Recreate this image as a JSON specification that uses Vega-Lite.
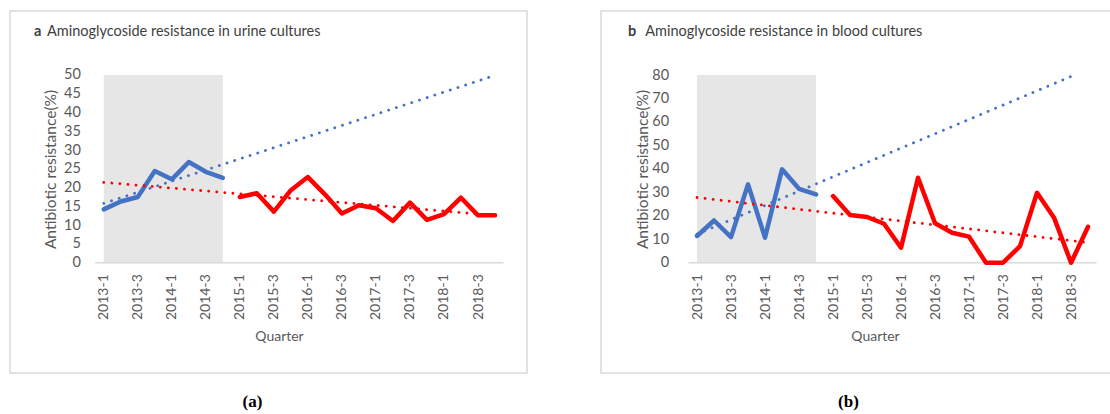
{
  "$schema": "https://vega.github.io/schema/vega-lite/v6.json",
  "background": "white",
  "padding": {"left": 9, "top": 10, "right": 0, "bottom": 0},
  "spacing": 72,
  "config": {
    "font": "Lato",
    "view": {"stroke": "#D9D9D9", "strokeWidth": 1.5},
    "axis": {"domain": false, "ticks": false, "grid": false, "labelColor": "#595959", "titleColor": "#595959", "labelFont": "Lato", "titleFont": "Lato", "labelFontSize": 14, "titleFontSize": 14, "titleFontWeight": "normal", "labelFlush": false, "labelOverlap": false, "labelBound": false}
  },
  "datasets": {
    "urine": [
      {"t": 1, "quarter": "2013-1", "period": "2013-2014", "value": 14.2},
      {"t": 2, "quarter": "2013-2", "period": "2013-2014", "value": 16.3},
      {"t": 3, "quarter": "2013-3", "period": "2013-2014", "value": 17.5},
      {"t": 4, "quarter": "2013-4", "period": "2013-2014", "value": 24.4},
      {"t": 5, "quarter": "2014-1", "period": "2013-2014", "value": 22.2},
      {"t": 6, "quarter": "2014-2", "period": "2013-2014", "value": 26.8},
      {"t": 7, "quarter": "2014-3", "period": "2013-2014", "value": 24.2},
      {"t": 8, "quarter": "2014-4", "period": "2013-2014", "value": 22.6},
      {"t": 9, "quarter": "2015-1", "period": "2015-2018", "value": 17.5},
      {"t": 10, "quarter": "2015-2", "period": "2015-2018", "value": 18.5},
      {"t": 11, "quarter": "2015-3", "period": "2015-2018", "value": 13.6},
      {"t": 12, "quarter": "2015-4", "period": "2015-2018", "value": 19.3},
      {"t": 13, "quarter": "2016-1", "period": "2015-2018", "value": 22.8},
      {"t": 14, "quarter": "2016-2", "period": "2015-2018", "value": 18.2},
      {"t": 15, "quarter": "2016-3", "period": "2015-2018", "value": 13.1},
      {"t": 16, "quarter": "2016-4", "period": "2015-2018", "value": 15.3},
      {"t": 17, "quarter": "2017-1", "period": "2015-2018", "value": 14.5},
      {"t": 18, "quarter": "2017-2", "period": "2015-2018", "value": 11.1},
      {"t": 19, "quarter": "2017-3", "period": "2015-2018", "value": 16.0},
      {"t": 20, "quarter": "2017-4", "period": "2015-2018", "value": 11.4},
      {"t": 21, "quarter": "2018-1", "period": "2015-2018", "value": 12.9},
      {"t": 22, "quarter": "2018-2", "period": "2015-2018", "value": 17.3},
      {"t": 23, "quarter": "2018-3", "period": "2015-2018", "value": 12.6},
      {"t": 24, "quarter": "2018-4", "period": "2015-2018", "value": 12.6}
    ],
    "urine_trend": [
      {"t": 1, "period": "2013-2014", "value": 15.8},
      {"t": 24, "period": "2013-2014", "value": 49.9},
      {"t": 1, "period": "2015-2018", "value": 21.4},
      {"t": 24, "period": "2015-2018", "value": 12.6}
    ],
    "blood": [
      {"t": 1, "quarter": "2013-1", "period": "2013-2014", "value": 11.4},
      {"t": 2, "quarter": "2013-2", "period": "2013-2014", "value": 18.0},
      {"t": 3, "quarter": "2013-3", "period": "2013-2014", "value": 10.9},
      {"t": 4, "quarter": "2013-4", "period": "2013-2014", "value": 33.4},
      {"t": 5, "quarter": "2014-1", "period": "2013-2014", "value": 10.7},
      {"t": 6, "quarter": "2014-2", "period": "2013-2014", "value": 39.8},
      {"t": 7, "quarter": "2014-3", "period": "2013-2014", "value": 31.5},
      {"t": 8, "quarter": "2014-4", "period": "2013-2014", "value": 29.1},
      {"t": 9, "quarter": "2015-1", "period": "2015-2018", "value": 28.4},
      {"t": 10, "quarter": "2015-2", "period": "2015-2018", "value": 20.3},
      {"t": 11, "quarter": "2015-3", "period": "2015-2018", "value": 19.5},
      {"t": 12, "quarter": "2015-4", "period": "2015-2018", "value": 16.6},
      {"t": 13, "quarter": "2016-1", "period": "2015-2018", "value": 6.4},
      {"t": 14, "quarter": "2016-2", "period": "2015-2018", "value": 36.2},
      {"t": 15, "quarter": "2016-3", "period": "2015-2018", "value": 16.8},
      {"t": 16, "quarter": "2016-4", "period": "2015-2018", "value": 12.8},
      {"t": 17, "quarter": "2017-1", "period": "2015-2018", "value": 11.1},
      {"t": 18, "quarter": "2017-2", "period": "2015-2018", "value": 0},
      {"t": 19, "quarter": "2017-3", "period": "2015-2018", "value": 0},
      {"t": 20, "quarter": "2017-4", "period": "2015-2018", "value": 7.1},
      {"t": 21, "quarter": "2018-1", "period": "2015-2018", "value": 29.8},
      {"t": 22, "quarter": "2018-2", "period": "2015-2018", "value": 19.2},
      {"t": 23, "quarter": "2018-3", "period": "2015-2018", "value": 0},
      {"t": 24, "quarter": "2018-4", "period": "2015-2018", "value": 15.3}
    ],
    "blood_trend": [
      {"t": 1, "period": "2013-2014", "value": 12.2},
      {"t": 23.2, "period": "2013-2014", "value": 80},
      {"t": 1, "period": "2015-2018", "value": 27.8},
      {"t": 24, "period": "2015-2018", "value": 8.6}
    ]
  },
  "hconcat": [
    {
      "width": 517,
      "height": 362,
      "title": {"text": "(a)", "orient": "bottom", "offset": 21, "dx": -16, "font": "Liberation Serif", "fontSize": 17, "fontWeight": "bold", "color": "#000000"},
      "layer": [
        {
          "data": {"values": [{}]},
          "mark": {"type": "rect", "color": "#E7E6E6"},
          "encoding": {
            "x": {"datum": 1, "type": "quantitative", "scale": {"domain": [-4.51, 25.88], "nice": false, "zero": false},
              "axis": {"orient": "bottom", "offset": -110.3, "values": [1, 3, 5, 7, 9, 11, 13, 15, 17, 19, 21, 23], "tickCount": 30, "labelAngle": -90, "labelPadding": 11, "labelOverlap": false,
                "labelExpr": "(2013 + floor((datum.value - 1) / 4)) + '-' + ((datum.value - 1) % 4 + 1)",
                "title": "Quarter", "titleX": 269, "titleY": 73.3, "titleBaseline": "middle"}},
            "x2": {"datum": 8},
            "y": {"datum": 0, "type": "quantitative", "scale": {"domain": [-29.4, 67.05], "nice": false, "zero": false},
              "axis": {"orient": "left", "offset": -74.3, "values": [0, 5, 10, 15, 20, 25, 30, 35, 40, 45, 50], "tickCount": 30, "labelPadding": 4, "labelOverlap": false, "labelFontSize": 14.5,
                "title": "Antibiotic resistance(%)", "titleFontSize": 15.5, "titleX": -33.8, "titleY": 158, "titleBaseline": "middle"}},
            "y2": {"datum": 50}
          }
        },
        {
          "data": {"values": [{}]},
          "mark": {"type": "rule", "color": "#D9D9D9", "strokeWidth": 1.5},
          "encoding": {"x": {"datum": 0.5, "type": "quantitative"}, "x2": {"datum": 24.5}, "y": {"datum": 0, "type": "quantitative"}}
        },
        {
          "data": {"name": "urine"},
          "mark": {"type": "line", "strokeWidth": 4.5, "strokeJoin": "round", "strokeCap": "round"},
          "encoding": {
            "x": {"field": "t", "type": "quantitative"},
            "y": {"field": "value", "type": "quantitative"},
            "color": {"field": "period", "type": "nominal", "scale": {"domain": ["2013-2014", "2015-2018"], "range": ["#4472C4", "#FF0000"]}, "legend": null}
          }
        },
        {
          "data": {"name": "urine_trend"},
          "mark": {"type": "line", "strokeWidth": 2.8, "strokeDash": [0.1, 8], "strokeCap": "round"},
          "encoding": {
            "x": {"field": "t", "type": "quantitative"},
            "y": {"field": "value", "type": "quantitative"},
            "color": {"field": "period", "type": "nominal", "legend": null}
          }
        },
        {
          "data": {"values": [{}]},
          "mark": {"type": "text", "align": "left", "baseline": "middle", "fontWeight": "bold", "fontSize": 14.5, "color": "#404040"},
          "encoding": {"x": {"datum": -3.1, "type": "quantitative"}, "y": {"datum": 61.45, "type": "quantitative"}, "text": {"value": "a"}}
        },
        {
          "data": {"values": [{}]},
          "mark": {"type": "text", "align": "left", "baseline": "middle", "fontSize": 14.5, "color": "#404040"},
          "encoding": {"x": {"datum": -2.335, "type": "quantitative"}, "y": {"datum": 61.45, "type": "quantitative"}, "text": {"value": "Aminoglycoside resistance in urine cultures"}}
        }
      ]
    },
    {
      "width": 510,
      "height": 362,
      "title": {"text": "(b)", "orient": "bottom", "offset": 21, "dx": -7.5, "font": "Liberation Serif", "fontSize": 17, "fontWeight": "bold", "color": "#000000"},
      "layer": [
        {
          "data": {"values": [{}]},
          "mark": {"type": "rect", "color": "#E7E6E6"},
          "encoding": {
            "x": {"datum": 1, "type": "quantitative", "scale": {"domain": [-4.647, 25.35], "nice": false, "zero": false},
              "axis": {"orient": "bottom", "offset": -110.3, "values": [1, 3, 5, 7, 9, 11, 13, 15, 17, 19, 21, 23], "tickCount": 30, "labelAngle": -90, "labelPadding": 11, "labelOverlap": false,
                "labelExpr": "(2013 + floor((datum.value - 1) / 4)) + '-' + ((datum.value - 1) % 4 + 1)",
                "title": "Quarter", "titleX": 274, "titleY": 73.3, "titleBaseline": "middle"}},
            "x2": {"datum": 8},
            "y": {"datum": 0, "type": "quantitative", "scale": {"domain": [-47.0, 107.28], "nice": false, "zero": false},
              "axis": {"orient": "left", "offset": -71.7, "values": [0, 10, 20, 30, 40, 50, 60, 70, 80], "tickCount": 30, "labelPadding": 4, "labelOverlap": false, "labelFontSize": 14.5,
                "title": "Antibiotic resistance(%)", "titleFontSize": 15.5, "titleX": -30, "titleY": 158, "titleBaseline": "middle"}},
            "y2": {"datum": 80}
          }
        },
        {
          "data": {"values": [{}]},
          "mark": {"type": "rule", "color": "#D9D9D9", "strokeWidth": 1.5},
          "encoding": {"x": {"datum": 0.5, "type": "quantitative"}, "x2": {"datum": 24.5}, "y": {"datum": 0, "type": "quantitative"}}
        },
        {
          "data": {"name": "blood"},
          "mark": {"type": "line", "strokeWidth": 4.5, "strokeJoin": "round", "strokeCap": "round"},
          "encoding": {
            "x": {"field": "t", "type": "quantitative"},
            "y": {"field": "value", "type": "quantitative"},
            "color": {"field": "period", "type": "nominal", "scale": {"domain": ["2013-2014", "2015-2018"], "range": ["#4472C4", "#FF0000"]}, "legend": null}
          }
        },
        {
          "data": {"name": "blood_trend"},
          "mark": {"type": "line", "strokeWidth": 2.8, "strokeDash": [0.1, 8], "strokeCap": "round"},
          "encoding": {
            "x": {"field": "t", "type": "quantitative"},
            "y": {"field": "value", "type": "quantitative"},
            "color": {"field": "period", "type": "nominal", "legend": null}
          }
        },
        {
          "data": {"values": [{}]},
          "mark": {"type": "text", "align": "left", "baseline": "middle", "fontWeight": "bold", "fontSize": 14.5, "color": "#404040"},
          "encoding": {"x": {"datum": -3.06, "type": "quantitative"}, "y": {"datum": 98.3, "type": "quantitative"}, "text": {"value": "b"}}
        },
        {
          "data": {"values": [{}]},
          "mark": {"type": "text", "align": "left", "baseline": "middle", "fontSize": 14.5, "color": "#404040"},
          "encoding": {"x": {"datum": -2.04, "type": "quantitative"}, "y": {"datum": 98.3, "type": "quantitative"}, "text": {"value": "Aminoglycoside resistance in blood cultures"}}
        }
      ]
    }
  ]
}
